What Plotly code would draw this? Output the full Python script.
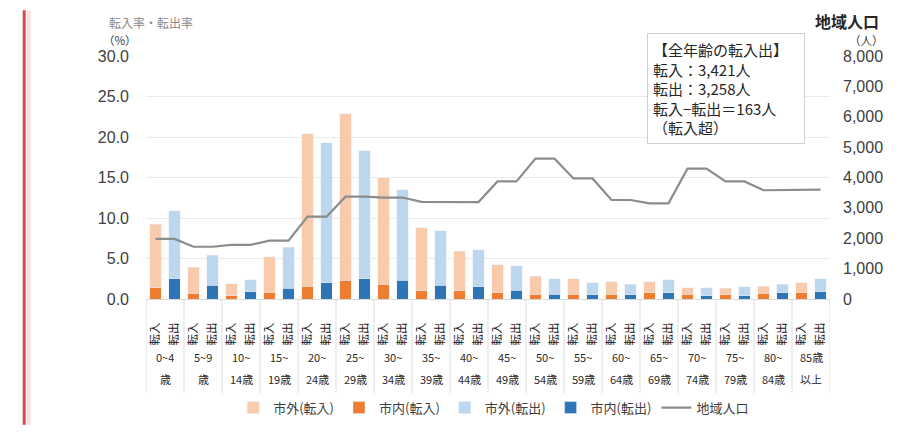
import plotly.graph_objects as go

# ---------------- data ----------------
AGE_LINE1 = ["0~4", "5~9", "10~", "15~", "20~", "25~", "30~", "35~", "40~",
             "45~", "50~", "55~", "60~", "65~", "70~", "75~", "80~", "85歳"]
AGE_LINE2 = ["歳", "歳", "14歳", "19歳", "24歳", "29歳", "34歳", "39歳", "44歳",
             "49歳", "54歳", "59歳", "64歳", "69歳", "74歳", "79歳", "84歳", "以上"]
DIRECTION = ["転入", "転出"]

# 転入率 (%)
IN_OUTSIDE = [7.8, 3.2, 1.5, 4.4, 18.8, 20.6, 13.2, 7.8, 4.9,
              3.4, 2.2, 1.9, 1.5, 1.3, 0.8, 0.8, 0.9, 1.2]   # 市外（転入）
IN_INSIDE = [1.4, 0.7, 0.4, 0.8, 1.6, 2.3, 1.8, 1.0, 1.0,
             0.8, 0.6, 0.6, 0.6, 0.8, 0.6, 0.5, 0.7, 0.8]    # 市内（転入）
# 転出率 (%)
OUT_OUTSIDE = [8.4, 3.7, 1.5, 5.1, 17.3, 15.8, 11.2, 6.7, 4.6,
               3.0, 1.9, 1.5, 1.3, 1.6, 1.0, 1.1, 1.0, 1.6]  # 市外（転出）
OUT_INSIDE = [2.5, 1.7, 0.9, 1.3, 2.0, 2.5, 2.3, 1.7, 1.5,
              1.1, 0.6, 0.5, 0.5, 0.8, 0.4, 0.4, 0.8, 0.9]   # 市内（転出）

# 地域人口 (人) at each bar position
POPULATION = [1980, 1980, 1720, 1720, 1780, 1780, 1920, 1920, 2710, 2710,
              3370, 3370, 3340, 3340, 3200, 3200, 3200, 3190, 3870, 3870,
              4620, 4620, 3970, 3970, 3260, 3260, 3150, 3150, 4290, 4290,
              3870, 3870, 3580, 3580, 3600, 3600]

LEFT_TICKS = [0, 5, 10, 15, 20, 25, 30]
RIGHT_TICKS = [0, 1000, 2000, 3000, 4000, 5000, 6000, 7000, 8000]

BOX_TEXT = ["【全年齢の転入出】", "転入：3,421人", "転出：3,258人",
            "転入−転出＝163人", "（転入超）"]

# ---------------- styling ----------------
C_IN_OUT = "#F8CBAD"
C_IN_IN = "#ED7D31"
C_OUT_OUT = "#BDD7EE"
C_OUT_IN = "#2E75B6"
C_LINE = "#8C8C8C"
JP = "Noto Sans CJK JP"
NUM = "Liberation Sans, Arial, Noto Sans CJK JP"

n = len(AGE_LINE1)
x_in = [2 * i for i in range(n)]
x_out = [2 * i + 1 for i in range(n)]
x_all = list(range(2 * n))

fig = go.Figure()
fig.add_trace(go.Bar(x=x_in, y=IN_INSIDE, name="市内(転入)", marker_color=C_IN_IN,
                     legendrank=2))
fig.add_trace(go.Bar(x=x_in, y=IN_OUTSIDE, name="市外(転入)", marker_color=C_IN_OUT,
                     legendrank=1))
fig.add_trace(go.Bar(x=x_out, y=OUT_INSIDE, name="市内(転出)", marker_color=C_OUT_IN,
                     legendrank=4))
fig.add_trace(go.Bar(x=x_out, y=OUT_OUTSIDE, name="市外(転出)", marker_color=C_OUT_OUT,
                     legendrank=3))
fig.add_trace(go.Scatter(x=x_all, y=POPULATION, name="地域人口", mode="lines",
                         line=dict(color=C_LINE, width=2.2), yaxis="y2",
                         legendrank=5))

# page offset (browser body margin of 8px on every side)
OFF = 8
W, H = 906 - OFF, 443 - 2 * OFF
# plot area in page pixels
L, R, T, B = 146.3, 830.3, 56, 311
PW, PH = R - L, B - T


def px(xp):
    return (xp - L) / PW


def py(yp):
    return (B - yp) / PH


shapes = []
for k in range(n + 1):
    shapes.append(dict(type="line", xref="x", yref="paper",
                       x0=2 * k - 0.5, x1=2 * k - 0.5, y0=0, y1=py(410),
                       line=dict(color="#DCDCDC", width=1)))
shapes.append(dict(type="line", xref="paper", yref="paper",
                   x0=px(24.5), x1=px(24.5), y0=py(OFF), y1=py(443),
                   line=dict(color="#D94A4A", width=3)))
shapes.append(dict(type="line", xref="paper", yref="paper",
                   x0=px(29), x1=px(29), y0=py(OFF), y1=py(443),
                   line=dict(color="#F6E0E0", width=4)))

annotations = []
for k in range(n):
    annotations.append(dict(x=2 * k + 0.5, y=py(372), xref="x", yref="paper",
                            text=AGE_LINE1[k], showarrow=False,
                            font=dict(family=JP, size=11, color="#2A2A2A"),
                            xanchor="center", yanchor="middle"))
    annotations.append(dict(x=2 * k + 0.5, y=py(395), xref="x", yref="paper",
                            text=AGE_LINE2[k], showarrow=False,
                            font=dict(family=JP, size=11, color="#2A2A2A"),
                            xanchor="center", yanchor="middle"))

annotations += [
    dict(x=px(151), y=py(21), xref="paper", yref="paper", text="転入率・転出率",
         showarrow=False, font=dict(family=JP, size=12, color="#8A8A8A"),
         xanchor="center", yanchor="middle"),
    dict(x=px(120), y=py(39), xref="paper", yref="paper", text="（%）",
         showarrow=False, font=dict(family=JP, size=11.5, color="#404040"),
         xanchor="center", yanchor="middle"),
    dict(x=px(847), y=py(19.5), xref="paper", yref="paper", text="<b>地域人口</b>",
         showarrow=False, font=dict(family=JP, size=16, color="#262626"),
         xanchor="center", yanchor="middle"),
    dict(x=px(867), y=py(39.5), xref="paper", yref="paper", text="（人）",
         showarrow=False, font=dict(family=JP, size=11.5, color="#404040"),
         xanchor="center", yanchor="middle"),
    dict(x=px(647), y=py(32), xref="paper", yref="paper",
         text="<br>".join(BOX_TEXT), showarrow=False, align="left",
         xanchor="left", yanchor="top", width=146,
         font=dict(family=JP, size=15, color="#262626"),
         bgcolor="white", bordercolor="#D0D0D0", borderwidth=1, borderpad=5),
]

fig.update_layout(
    width=W, height=H,
    margin=dict(l=L - OFF, r=W - (R - OFF), t=T - OFF, b=H - (B - OFF), pad=0),
    paper_bgcolor="white", plot_bgcolor="white",
    barmode="stack", bargap=0.37,
    showlegend=True,
    legend=dict(orientation="h", x=px(494), y=py(425), xanchor="center",
                yanchor="middle", itemwidth=30,
                font=dict(family=JP, size=13, color="#404040"),
                traceorder="normal", bgcolor="rgba(0,0,0,0)"),
    xaxis=dict(range=[-0.5, 2 * n - 0.5], tickmode="array", tickvals=x_all,
               ticktext=[DIRECTION[i % 2] for i in x_all], tickangle=-90,
               tickfont=dict(family=JP, size=11.5, color="#1A1A1A"),
               showgrid=False, zeroline=False, showline=True,
               linecolor="#D9D9D9", linewidth=1, ticks="",
               ticklabelstandoff=18, fixedrange=True),
    yaxis=dict(range=[0, 30], tickmode="array", tickvals=LEFT_TICKS,
               ticktext=[f"{v:.1f}" for v in LEFT_TICKS],
               tickfont=dict(family=NUM, size=16, color="#404040"),
               showgrid=True, gridcolor="#EAEAEA", gridwidth=1,
               zeroline=False, showline=False, ticks="",
               ticklabelstandoff=16),
    yaxis2=dict(range=[0, 8000], overlaying="y", side="right", tickmode="array",
                tickvals=RIGHT_TICKS, ticktext=[f"{v:,}" for v in RIGHT_TICKS],
                tickfont=dict(family=NUM, size=16, color="#404040"),
                showgrid=False, zeroline=False, showline=False, ticks="",
                ticklabelstandoff=12),
    shapes=shapes,
    annotations=annotations,
)

fig.write_html("out.html")
